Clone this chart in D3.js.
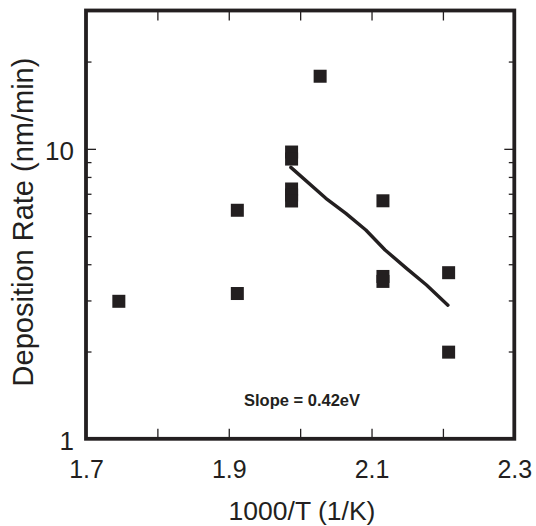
<!DOCTYPE html>
<html>
<head>
<meta charset="utf-8">
<script src="https://cdn.jsdelivr.net/npm/d3@7"></script>
<style>
  body { margin: 0; background: #fff; }
  text { font-family: "Liberation Sans", Arial, sans-serif; fill: #231f20; }
</style>
</head>
<body>
<script>
// measured points (1000/T, rate)
var ptX = [1.746, 1.912, 1.912, 1.988, 1.988, 1.988, 1.988, 1.988, 2.028, 2.116, 2.116, 2.116, 2.208, 2.208];
var ptY = [2.98, 3.17, 6.14, 9.75, 9.22, 7.27, 6.93, 6.61, 17.8, 6.62, 3.63, 3.49, 3.74, 1.99];

// fitted line as drawn
var fitX = [1.987, 2.036, 2.064, 2.092, 2.119, 2.149, 2.177, 2.207];
var fitY = [8.63, 6.75, 5.99, 5.25, 4.48, 3.87, 3.39, 2.89];

var xMinor = [1.8, 1.9, 2.0, 2.1, 2.2];
var xLabels = [1.7, 1.9, 2.1, 2.3];
var yMajor = [10];
var yMinor = [2, 3, 4, 5, 6, 7, 8, 9, 20];
var yLabels = [1, 10];

var width = 536, height = 526;
var svg = d3.select("body").append("svg").attr("width", width).attr("height", height);

var x = d3.scaleLinear().domain([1.7, 2.3]).range([86, 514.3]);
var y = d3.scaleLog().domain([1, 30]).range([438.8, 10.5]);

function tidy(g) {
    g.select(".domain").remove();
    g.selectAll("line").attr("stroke", "#231f20").attr("stroke-width", 1.3);
}

// ticks, pointing inward
svg.append("g").attr("transform", "translate(0," + y(1) + ")")
    .call(d3.axisBottom(x).tickValues(xMinor).tickSize(-10).tickFormat("")).call(tidy);
svg.append("g").attr("transform", "translate(0," + y(30) + ")")
    .call(d3.axisTop(x).tickValues(xMinor).tickSize(-10).tickFormat("")).call(tidy);
svg.append("g").attr("transform", "translate(" + x(1.7) + ",0)")
    .call(d3.axisLeft(y).tickValues(yMajor).tickSize(-10).tickFormat("")).call(tidy);
svg.append("g").attr("transform", "translate(" + x(1.7) + ",0)")
    .call(d3.axisLeft(y).tickValues(yMinor).tickSize(-5.5).tickFormat("")).call(tidy);
svg.append("g").attr("transform", "translate(" + x(2.3) + ",0)")
    .call(d3.axisRight(y).tickValues(yMajor).tickSize(-10).tickFormat("")).call(tidy);
svg.append("g").attr("transform", "translate(" + x(2.3) + ",0)")
    .call(d3.axisRight(y).tickValues(yMinor).tickSize(-5.5).tickFormat("")).call(tidy);

// tick labels
var xl = svg.append("g").attr("transform", "translate(0," + y(1) + ")")
    .call(d3.axisBottom(x).tickValues(xLabels).tickSize(0).tickPadding(21).tickFormat(d3.format(".1f")));
xl.select(".domain").remove();
xl.selectAll("text").style("font-size", "25px").style("font-family", "Liberation Sans, Arial, sans-serif").attr("fill", "#231f20");

var yl = svg.append("g").attr("transform", "translate(" + x(1.7) + ",0)")
    .call(d3.axisLeft(y).tickValues(yLabels).tickSize(0).tickPadding(12).tickFormat(d3.format("d")));
yl.select(".domain").remove();
yl.selectAll("text").style("font-size", "26px").style("font-family", "Liberation Sans, Arial, sans-serif").attr("fill", "#231f20").attr("dy", "0.4em");

// frame
svg.append("rect")
    .attr("x", x(1.7)).attr("y", y(30))
    .attr("width", x(2.3) - x(1.7)).attr("height", y(1) - y(30))
    .attr("fill", "none").attr("stroke", "#231f20").attr("stroke-width", 3.8);

// fit line
var fit = fitX.map(function (d, i) { return [d, fitY[i]]; });
svg.append("path").datum(fit)
    .attr("d", d3.line().x(function (d) { return x(d[0]); }).y(function (d) { return y(d[1]); }))
    .attr("fill", "none").attr("stroke", "#231f20").attr("stroke-width", 3.4)
    .attr("stroke-linecap", "round").attr("stroke-linejoin", "round");

// points
var pts = ptX.map(function (d, i) { return [d, ptY[i]]; });
var s = 13;
svg.append("g").selectAll("rect").data(pts).enter().append("rect")
    .attr("x", function (d) { return x(d[0]) - s / 2; })
    .attr("y", function (d) { return y(d[1]) - s / 2; })
    .attr("width", s).attr("height", s)
    .attr("fill", "#231f20");

// annotation
svg.append("text").attr("x", 244).attr("y", 406)
    .style("font-size", "16.5px").style("font-weight", "bold")
    .text("Slope = 0.42eV");

// axis titles
svg.append("text").attr("x", 302).attr("y", 520).attr("text-anchor", "middle")
    .style("font-size", "26.5px").text("1000/T (1/K)");
svg.append("text").attr("transform", "translate(33,222) rotate(-90)").attr("text-anchor", "middle")
    .style("font-size", "29px").text("Deposition Rate (nm/min)");
</script>
</body>
</html>
